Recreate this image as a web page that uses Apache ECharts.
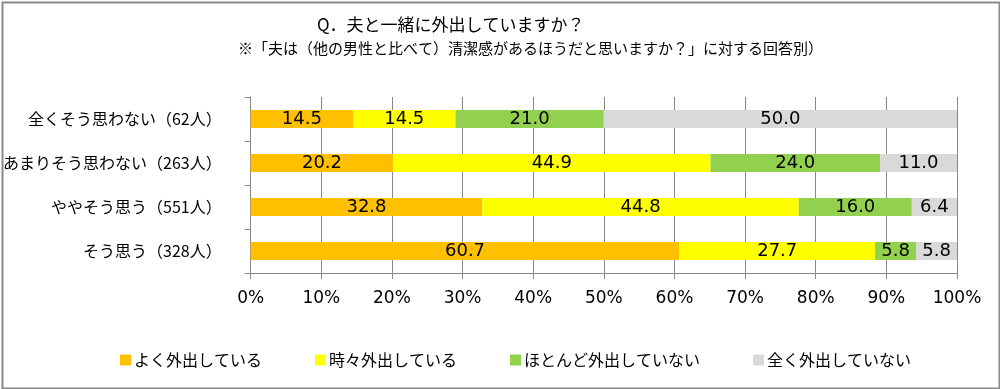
<!DOCTYPE html>
<html><head><meta charset="utf-8">
<script src="https://cdn.jsdelivr.net/npm/echarts@6/dist/echarts.min.js"></script>
<style>html,body{margin:0;padding:0;background:#fff}#c{width:1000px;height:389px}</style>
</head><body><div id="c"></div>
<script>
const categories = ['全くそう思わない（62人）','あまりそう思わない（263人）','ややそう思う（551人）','そう思う（328人）'];
const seriesNames = ['よく外出している','時々外出している','ほとんど外出していない','全く外出していない'];
const often = [14.5, 20.2, 32.8, 60.7];
const sometimes = [14.5, 44.9, 44.8, 27.7];
const rarely = [21.0, 24.0, 16.0, 5.8];
const never = [50.0, 11.0, 6.4, 5.8];
const xTicks = [0,10,20,30,40,50,60,70,80,90,100];
const colors = ['#FFC000','#FFFF00','#92D050','#D9D9D9'];
const titleLine1 = 'Q．夫と一緒に外出していますか？';
const titleLine2 = '※「夫は（他の男性と比べて）清潔感があるほうだと思いますか？」に対する回答別）';

const jp = "'Noto Sans CJK JP', sans-serif";
const num = "'DejaVu Sans', sans-serif";
const chart = echarts.init(document.getElementById('c'));
const values = [often, sometimes, rarely, never];
chart.setOption({
  animation: false,
  title: [
    {text: titleLine1, left: 312, top: 11, textStyle: {fontFamily: jp, fontSize: 17, fontWeight: 'normal', color: '#000'}},
    {text: titleLine2, left: 233, top: 36, textStyle: {fontFamily: jp, fontSize: 15, fontWeight: 'normal', color: '#000'}}
  ],
  graphic: [{type: 'rect', left: 0, top: 0, shape: {x: 1, y: 1, width: 997, height: 386}, style: {fill: 'none', stroke: '#8a8a8a', lineWidth: 2}, silent: true}],
  legend: {
    left: 115, top: 347, itemWidth: 11, itemHeight: 11, itemGap: 53,
    icon: 'rect',
    textStyle: {fontFamily: jp, fontSize: 16, color: '#000', padding: [0,0,0,-2]},
    data: seriesNames
  },
  grid: {left: 247, right: 43, top: 97, bottom: 116, containLabel: false},
  xAxis: {
    type: 'value', min: 0, max: 100, interval: 10,
    axisLine: {show: true, lineStyle: {color: '#888', width: 1}},
    axisTick: {show: true, length: 6, lineStyle: {color: '#888'}},
    splitLine: {show: true, lineStyle: {color: '#888', width: 1}},
    axisLabel: {fontFamily: num, fontSize: 17, color: '#000', margin: 17,
      formatter: v => xTicks.includes(v) ? v + '%' : ''}
  },
  yAxis: {
    type: 'category', inverse: true, data: categories,
    axisLine: {show: true, lineStyle: {color: '#888', width: 1}},
    axisTick: {show: true, length: 6, lineStyle: {color: '#888'}},
    axisLabel: {fontFamily: jp, fontSize: 16, color: '#000', margin: 29}
  },
  series: seriesNames.map((n, i) => ({
    name: n, type: 'bar', stack: 'total', barWidth: 18,
    itemStyle: {color: colors[i]},
    label: {show: true, position: 'inside', fontFamily: num, fontSize: 18, color: '#000',
      formatter: p => p.value.toFixed(1)},
    data: values[i]
  }))
});
</script></body></html>
